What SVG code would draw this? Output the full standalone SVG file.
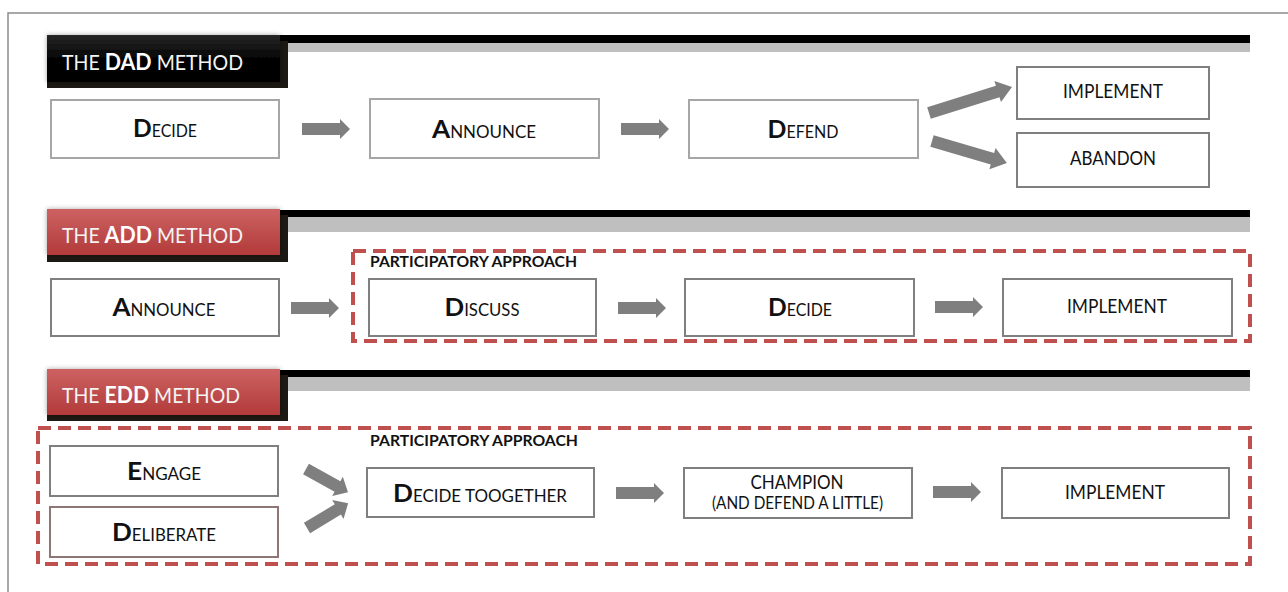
<svg xmlns="http://www.w3.org/2000/svg" xmlns:xlink="http://www.w3.org/1999/xlink" width="1288" height="592" viewBox="0 0 1288 592">
<defs>
<style>
text{font-family:Lato,"Open Sans","Liberation Sans",sans-serif;fill:#111}
.box{fill:#fff;stroke:#7f7f7f;stroke-width:2}
.lbox{fill:#fff;stroke:#a6a6a6;stroke-width:2}
.dbox{fill:#fff;stroke:#8f7676;stroke-width:2}
.dash{fill:none;stroke:#c0504d;stroke-width:4;stroke-dasharray:13 7}
.big{font-weight:700;font-size:25.5px}
.sc{font-size:16.5px}
.lbl{font-size:18.5px}
.sm{font-size:16.5px}
.pa{font-size:15px;font-weight:700}
.hd{font-size:21px;fill:#f4f4f4}
.hdb{font-weight:700;font-size:23px;fill:#fff}
.arr{fill:#7f7f7f}
.bk{fill:#000}
.gr{fill:#bfbfbf}
.shd{fill:#1c1813}
</style>
<linearGradient id="red" x1="0" y1="0" x2="0" y2="1">
<stop offset="0" stop-color="#cd6262"/>
<stop offset="1" stop-color="#b23a3a"/>
</linearGradient>
<linearGradient id="blk" x1="0" y1="0" x2="0" y2="1">
<stop offset="0" stop-color="#262626"/>
<stop offset="0.5" stop-color="#050505"/>
<stop offset="1" stop-color="#000"/>
</linearGradient>
<filter id="glow" x="-10%" y="-20%" width="120%" height="140%">
<feDropShadow dx="0" dy="0" stdDeviation="2.5" flood-color="#000" flood-opacity="0.35"/>
</filter>
<path id="a48" d="M0,-6 H38 V-10 L48,0 L38,10 V6 H0 Z"/>
</defs>
<rect width="1288" height="592" fill="#fff"/>
<path d="M1288,13 H8 V592" fill="none" stroke="#8c8c8c" stroke-width="1.5"/>

<!-- section bars -->
<g id="bars">
<rect class="bk" x="280" y="35" width="970" height="8"/>
<rect class="gr" x="288" y="43" width="962" height="9"/>
<rect class="bk" x="280" y="210" width="970" height="7"/>
<rect class="gr" x="288" y="217" width="962" height="15"/>
<rect class="bk" x="280" y="370" width="970" height="7"/>
<rect class="gr" x="288" y="377" width="962" height="14"/>
</g>

<!-- headers -->
<g id="hdr-dad">
<rect class="shd" x="47" y="41" width="241" height="47"/>
<rect x="47" y="35" width="233" height="47" fill="url(#blk)" filter="url(#glow)"/>
<text x="62" y="70" textLength="181" lengthAdjust="spacingAndGlyphs"><tspan class="hd">THE </tspan><tspan class="hdb">DAD</tspan><tspan class="hd"> METHOD</tspan></text>
</g>
<g id="hdr-add">
<rect class="shd" x="47" y="215" width="241" height="47"/>
<rect x="47" y="209" width="233" height="46" fill="url(#red)" filter="url(#glow)"/>
<text x="62" y="243" textLength="181" lengthAdjust="spacingAndGlyphs"><tspan class="hd">THE </tspan><tspan class="hdb">ADD</tspan><tspan class="hd"> METHOD</tspan></text>
</g>
<g id="hdr-edd">
<rect class="shd" x="47" y="375" width="241" height="46"/>
<rect x="47" y="369" width="233" height="46" fill="url(#red)" filter="url(#glow)"/>
<text x="62" y="403" textLength="178" lengthAdjust="spacingAndGlyphs"><tspan class="hd">THE </tspan><tspan class="hdb">EDD</tspan><tspan class="hd"> METHOD</tspan></text>
</g>

<!-- participatory groups -->
<g id="add-participatory">
<rect class="dash" x="353" y="251" width="897" height="90"/>
<text class="pa" x="370" y="267" textLength="207" lengthAdjust="spacingAndGlyphs">PARTICIPATORY APPROACH</text>
</g>
<g id="edd-participatory">
<rect class="dash" x="38" y="428" width="1212" height="136"/>
<text class="pa" x="370" y="446" textLength="208" lengthAdjust="spacingAndGlyphs">PARTICIPATORY APPROACH</text>
</g>

<!-- DAD nodes -->
<g id="dad-decide">
<rect class="lbox" x="51" y="100" width="228" height="58"/>
<text x="165" y="137" text-anchor="middle" textLength="64" lengthAdjust="spacingAndGlyphs"><tspan class="big">D</tspan><tspan class="sc">ECIDE</tspan></text>
</g>
<g id="dad-announce">
<rect class="lbox" x="370" y="99" width="229" height="59"/>
<text x="484" y="138" text-anchor="middle" textLength="104" lengthAdjust="spacingAndGlyphs"><tspan class="big">A</tspan><tspan class="sc">NNOUNCE</tspan></text>
</g>
<g id="dad-defend">
<rect class="lbox" x="689" y="100" width="229" height="58"/>
<text x="803" y="138" text-anchor="middle" textLength="71" lengthAdjust="spacingAndGlyphs"><tspan class="big">D</tspan><tspan class="sc">EFEND</tspan></text>
</g>
<g id="dad-implement">
<rect class="box" x="1017" y="67" width="192" height="52"/>
<text class="lbl" x="1113" y="98" text-anchor="middle" textLength="100" lengthAdjust="spacingAndGlyphs">IMPLEMENT</text>
</g>
<g id="dad-abandon">
<rect class="box" x="1017" y="133" width="192" height="54"/>
<text class="lbl" x="1113" y="165" text-anchor="middle" textLength="86" lengthAdjust="spacingAndGlyphs">ABANDON</text>
</g>

<!-- ADD nodes -->
<g id="add-announce">
<rect class="box" x="51" y="279" width="228" height="57"/>
<text x="164" y="316" text-anchor="middle" textLength="103" lengthAdjust="spacingAndGlyphs"><tspan class="big">A</tspan><tspan class="sc">NNOUNCE</tspan></text>
</g>
<g id="add-discuss">
<rect class="box" x="369" y="279" width="227" height="57"/>
<text x="482" y="316" text-anchor="middle" textLength="75" lengthAdjust="spacingAndGlyphs"><tspan class="big">D</tspan><tspan class="sc">ISCUSS</tspan></text>
</g>
<g id="add-decide">
<rect class="box" x="685" y="279" width="229" height="57"/>
<text x="800" y="316" text-anchor="middle" textLength="64" lengthAdjust="spacingAndGlyphs"><tspan class="big">D</tspan><tspan class="sc">ECIDE</tspan></text>
</g>
<g id="add-implement">
<rect class="box" x="1003" y="279" width="229" height="57"/>
<text class="lbl" x="1117" y="313" text-anchor="middle" textLength="100" lengthAdjust="spacingAndGlyphs">IMPLEMENT</text>
</g>

<!-- EDD nodes -->
<g id="edd-engage">
<rect class="box" x="50" y="446" width="228" height="50"/>
<text x="164" y="480" text-anchor="middle" textLength="74" lengthAdjust="spacingAndGlyphs"><tspan class="big">E</tspan><tspan class="sc">NGAGE</tspan></text>
</g>
<g id="edd-deliberate">
<rect class="dbox" x="50" y="507" width="228" height="50"/>
<text x="164" y="541" text-anchor="middle" textLength="104" lengthAdjust="spacingAndGlyphs"><tspan class="big">D</tspan><tspan class="sc">ELIBERATE</tspan></text>
</g>
<g id="edd-decide-together">
<rect class="box" x="367" y="468" width="227" height="49"/>
<text x="480" y="502" text-anchor="middle" textLength="174" lengthAdjust="spacingAndGlyphs"><tspan class="big">D</tspan><tspan class="sc">ECIDE TOOGETHER</tspan></text>
</g>
<g id="edd-champion">
<rect class="box" x="684" y="468" width="228" height="50"/>
<text class="lbl" x="797" y="489" text-anchor="middle" textLength="93" lengthAdjust="spacingAndGlyphs">CHAMPION</text>
<text class="sm" x="797.5" y="509" text-anchor="middle" textLength="171" lengthAdjust="spacingAndGlyphs">(AND DEFEND A LITTLE)</text>
</g>
<g id="edd-implement">
<rect class="box" x="1002" y="468" width="227" height="50"/>
<text class="lbl" x="1115" y="499" text-anchor="middle" textLength="100" lengthAdjust="spacingAndGlyphs">IMPLEMENT</text>
</g>

<!-- connectors -->
<g id="connectors" class="arr">
<use xlink:href="#a48" href="#a48" transform="translate(302,129)"/>
<use xlink:href="#a48" href="#a48" transform="translate(621,129)"/>
<path d="M0,-6 H72 V-11 L87,0 L72,11 V6 H0 Z" transform="translate(929,113) rotate(-17.4)"/>
<path d="M0,-6 H63 V-11 L78,0 L63,11 V6 H0 Z" transform="translate(932,141) rotate(16.3)"/>
<use xlink:href="#a48" href="#a48" transform="translate(291,308)"/>
<use xlink:href="#a48" href="#a48" transform="translate(618,308)"/>
<use xlink:href="#a48" href="#a48" transform="translate(935,307)"/>
<path d="M0,-6 H36 V-11 L48,0 L36,11 V6 H0 Z" transform="translate(306,469) rotate(29)"/>
<path d="M0,-6 H36 V-11 L48,0 L36,11 V6 H0 Z" transform="translate(307,528) rotate(-31)"/>
<use xlink:href="#a48" href="#a48" transform="translate(616,493)"/>
<use xlink:href="#a48" href="#a48" transform="translate(933,492)"/>
</g>
</svg>
